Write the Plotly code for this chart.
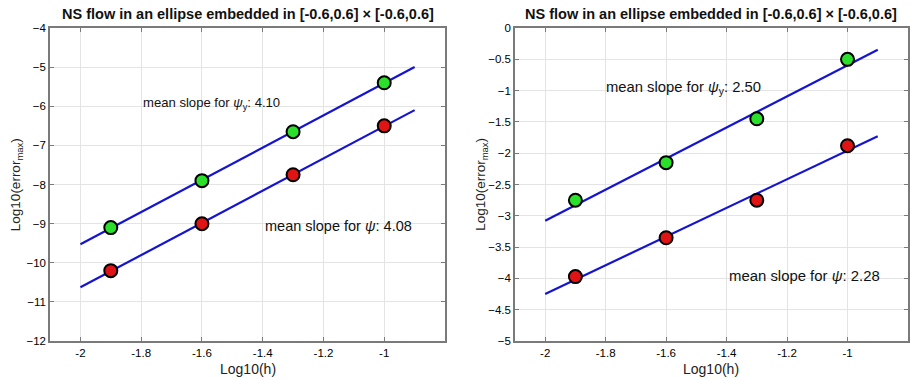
import numpy as np
import plotly.graph_objects as go

h = [-1.9, -1.6, -1.3, -1.0]
left_psiy = [-9.1, -7.9, -6.65, -5.4]
left_psi = [-10.2, -9.0, -7.75, -6.5]
right_psiy = [-2.75, -2.15, -1.45, -0.5]
right_psi = [-3.97, -3.35, -2.75, -1.88]
fit_x = [-2.0, -0.9]
title = "<b>NS flow in an ellipse embedded in [-0.6,0.6] × [-0.6,0.6]</b>"
left_labels = ["mean slope for <i>ψ</i><sub>y</sub>: 4.10", "mean slope for <i>ψ</i>: 4.08"]
right_labels = ["mean slope for <i>ψ</i><sub>y</sub>: 2.50", "mean slope for <i>ψ</i>: 2.28"]

GREEN = "#2BE02B"
RED = "#E01414"
BLUE = "#1414D2"

fig = go.Figure()

def add_panel(xa, ya, ys):
    for y, col in ys:
        p = np.polyfit(h, y, 1)
        fx = np.array(fit_x)
        fig.add_trace(go.Scatter(x=fx, y=np.polyval(p, fx), mode="lines",
                                 line=dict(color=BLUE, width=2.2), xaxis=xa, yaxis=ya,
                                 showlegend=False, hoverinfo="skip"))
    for y, col in ys:
        fig.add_trace(go.Scatter(x=h, y=y, mode="markers",
                                 marker=dict(color=col, size=13, line=dict(color="black", width=2)),
                                 xaxis=xa, yaxis=ya, showlegend=False))

add_panel("x", "y", [(left_psiy, GREEN), (left_psi, RED)])
add_panel("x2", "y2", [(right_psiy, GREEN), (right_psi, RED)])

axis_common = dict(showgrid=True, gridcolor="#E4E4E4", gridwidth=1, zeroline=False,
                   showline=True, linecolor="#7A7A7A", linewidth=1.5, mirror="ticks",
                   ticks="inside", ticklen=4, tickcolor="#7A7A7A",
                   tickfont=dict(family="Arial", size=11.5, color="#000"))

XD1 = [0.0548, 0.4874]
XD2 = [0.564, 0.9945]
YD = [0.087, 0.94]

fig.update_layout(
    width=913, height=379, margin=dict(l=0, r=0, t=0, b=0), autosize=False,
    paper_bgcolor="white", plot_bgcolor="white",
    xaxis=dict(domain=XD1, range=[-2.1, -0.8], tickvals=[-2, -1.8, -1.6, -1.4, -1.2, -1],
               ticktext=["-2", "-1.8", "-1.6", "-1.4", "-1.2", "-1"], anchor="y", **axis_common),
    yaxis=dict(domain=YD, range=[-12, -4], dtick=1, anchor="x", **axis_common),
    xaxis2=dict(domain=XD2, range=[-2.1, -0.8], tickvals=[-2, -1.8, -1.6, -1.4, -1.2, -1],
                ticktext=["-2", "-1.8", "-1.6", "-1.4", "-1.2", "-1"], anchor="y2", **axis_common),
    yaxis2=dict(domain=YD, range=[-5, 0], dtick=0.5, anchor="x2", **axis_common),
)

annots = []
for cx in [(XD1[0] + XD1[1]) / 2, (XD2[0] + XD2[1]) / 2]:
    annots.append(dict(text=title, x=cx, y=1.0, xref="paper", yref="paper", xanchor="center", yanchor="top",
                       yshift=2, showarrow=False, font=dict(family="Arial", size=14.5, color="#111")))
    annots.append(dict(text="Log10(h)", x=cx, y=0, xref="paper", yref="paper", xanchor="center",
                       yanchor="bottom", yshift=-6, showarrow=False,
                       font=dict(family="Liberation Sans", size=14, color="#222")))
for xp in [0.018, 0.528]:
    annots.append(dict(text="Log10(error<sub>max</sub>)", x=xp, y=0.513, xref="paper", yref="paper",
                       xanchor="center", yanchor="middle", textangle=-90, showarrow=False,
                       font=dict(family="Liberation Sans", size=13.5, color="#222")))

label_sizes = [13.1, 14.5, 14.8, 14.9]
i = 0
for (xr, yr), labels, pos in [(("x", "y"), left_labels, [(-1.80, -5.92), (-1.40, -9.05)]),
                              (("x2", "y2"), right_labels, [(-1.807, -0.96), (-1.40, -3.96)])]:
    for lab, (px, py) in zip(labels, pos):
        annots.append(dict(text=lab, x=px, y=py, xref=xr, yref=yr, xanchor="left", yanchor="middle",
                           showarrow=False, font=dict(family="Arial", size=label_sizes[i], color="#111")))
        i += 1

fig.update_layout(annotations=annots)
fig.write_html("out.html", config={"displayModeBar": False},
               post_script="document.body.style.margin='0';document.body.style.overflow='hidden';")
